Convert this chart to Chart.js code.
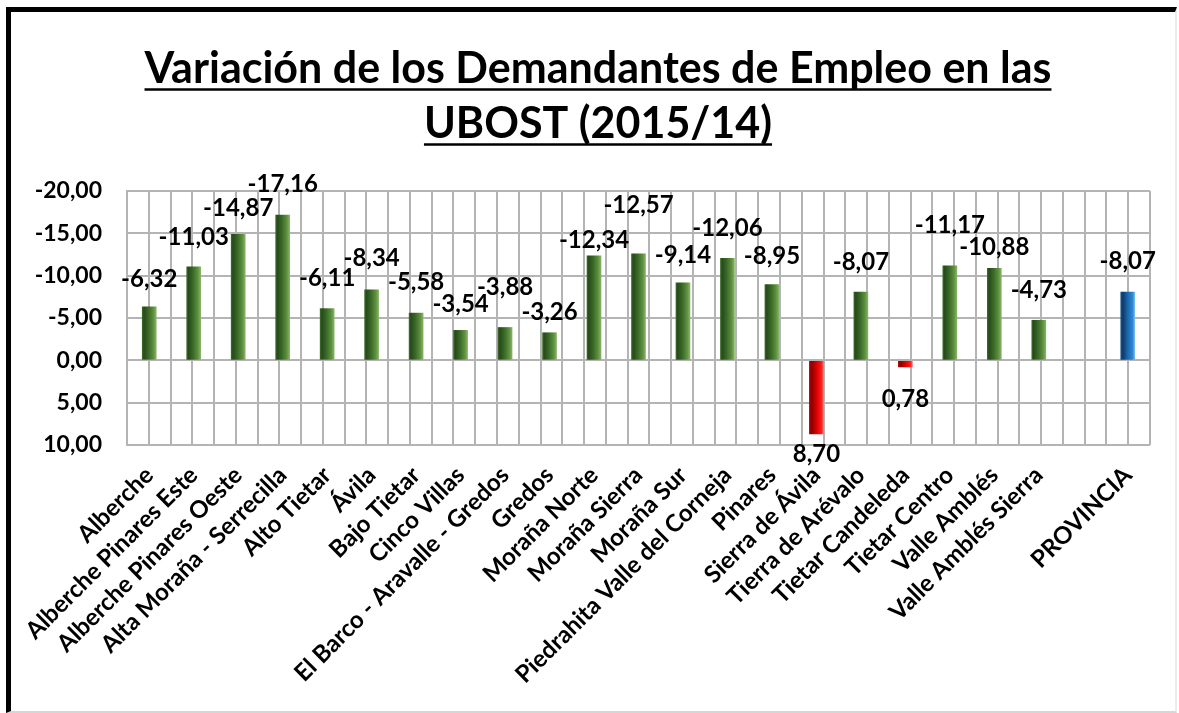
<!DOCTYPE html>
<html>
<head>
<meta charset="utf-8">
<script src="https://cdn.jsdelivr.net/npm/chart.js@4.4.1/dist/chart.umd.min.js"></script>
<style>
  html, body { margin: 0; padding: 0; background: #fff; }
  #frame {
    position: absolute; left: 6px; top: 7px; width: 1164px; height: 699px;
    border-top: 5px solid #000; border-left: 5px solid #000;
    border-right: 2px solid #ececec; border-bottom: 2px solid #d6d6d6;
  }
  #chart { position: absolute; left: 0; top: 0; }
</style>
</head>
<body>
<div id="frame"></div>
<canvas id="chart" width="1179" height="713"></canvas>
<script>
// UBOST + hueco + total provincial
const zonas = [
  'Alberche', 'Alberche Pinares Este', 'Alberche Pinares Oeste', 'Alta Moraña - Serrecilla',
  'Alto Tietar', 'Ávila', 'Bajo Tietar', 'Cinco Villas', 'El Barco - Aravalle - Gredos',
  'Gredos', 'Moraña Norte', 'Moraña Sierra', 'Moraña Sur', 'Piedrahita Valle del Corneja',
  'Pinares', 'Sierra de Ávila', 'Tierra de Arévalo', 'Tietar Candeleda', 'Tietar Centro',
  'Valle Amblés', 'Valle Amblés Sierra', '', 'PROVINCIA'
];
const variacion = [
  -6.32, -11.03, -14.87, -17.16, -6.11, -8.34, -5.58, -3.54, -3.88,
  -3.26, -12.34, -12.57, -9.14, -12.06, -8.95, 8.70, -8.07, 0.78,
  -11.17, -10.88, -4.73, null, -8.07
];
const yMin = -20;
const yMax = 10;
const yStep = 5;

const titulo = ['Variación de los Demandantes de Empleo en las', 'UBOST (2015/14)'];

// distance of each value label from the bar end (Excel moved a few of them)
const labelGap = [28, 30, 26, 31, 30, 31, 31, 26, 40, 20, 16, 49, 28, 30, 28, 20, 30, 32, 40, 21, 30, 0, 31];

const fmt = v => v.toFixed(2).replace('.', ',');

const greenStops = [[0, '#3b6a28'], [0.12, '#274a1a'], [0.45, '#3a6a28'], [0.8, '#5f9140'], [1, '#86b566']];
const redStops = [[0, '#b00000'], [0.15, '#8a0000'], [0.5, '#d80000'], [0.85, '#ff1a1a'], [1, '#ff6a6a']];
const blueStops = [[0, '#1b4f86'], [0.15, '#0e3a68'], [0.5, '#1c68b0'], [0.85, '#2f8ad6'], [1, '#7cbcec']];

function stopsFor(i) {
  if (i === zonas.length - 1) return blueStops;
  return variacion[i] > 0 ? redStops : greenStops;
}

// cylinder look: swap each bar's flat colour for a horizontal gradient at its drawn position
const barShading = {
  id: 'barShading',
  beforeDatasetsDraw(chart) {
    const ctx = chart.ctx;
    chart.getDatasetMeta(0).data.forEach((bar, i) => {
      if (variacion[i] == null || !isFinite(bar.x)) return;
      const half = bar.width / 2;
      const g = ctx.createLinearGradient(bar.x - half, 0, bar.x + half, 0);
      stopsFor(i).forEach(s => g.addColorStop(s[0], s[1]));
      bar.options.backgroundColor = g;
    });
  }
};

const valueLabels = {
  id: 'valueLabels',
  afterDatasetsDraw(chart) {
    const ctx = chart.ctx;
    const meta = chart.getDatasetMeta(0);
    ctx.save();
    ctx.font = 'bold 24px Lato';
    ctx.fillStyle = '#000';
    ctx.textAlign = 'center';
    ctx.textBaseline = 'middle';
    meta.data.forEach((bar, i) => {
      const v = variacion[i];
      if (v == null) return;
      const y = v < 0 ? bar.y - labelGap[i] : bar.y + labelGap[i];
      ctx.fillText(fmt(v), bar.x, y);
    });
    ctx.restore();
  }
};

const titleSize = 43;
const titleLine = 55;

const titleUnderline = {
  id: 'titleUnderline',
  afterDraw(chart) {
    const tb = chart.titleBlock;
    const opts = chart.options.plugins.title;
    const ctx = chart.ctx;
    ctx.save();
    ctx.font = 'bold ' + titleSize + 'px Lato';
    ctx.strokeStyle = '#000';
    ctx.lineWidth = 2.5;
    const cx = (tb.left + tb.right) / 2;
    titulo.forEach((line, i) => {
      const w = ctx.measureText(line).width;
      const y = tb.top + opts.padding.top + titleLine / 2 + i * titleLine + 20;
      ctx.beginPath();
      ctx.moveTo(cx - w / 2, y);
      ctx.lineTo(cx + w / 2, y);
      ctx.stroke();
    });
    ctx.restore();
  }
};

const gridColor = '#b4b4b4';

new Chart(document.getElementById('chart').getContext('2d'), {
  type: 'bar',
  data: {
    labels: zonas,
    datasets: [{
      data: variacion,
      backgroundColor: c => stopsFor(c.dataIndex)[2][1],
      borderWidth: 0,
      barThickness: 14
    }]
  },
  options: {
    responsive: false,
    animation: false,
    layout: { padding: { left: 17, right: 0, top: 0, bottom: 0 } },
    plugins: {
      legend: { display: false },
      tooltip: { enabled: false },
      title: {
        display: true,
        text: titulo,
        color: '#000',
        font: { family: 'Lato', size: titleSize, weight: 'bold', lineHeight: titleLine / titleSize },
        padding: { top: 42, bottom: 39 }
      }
    },
    scales: {
      x: {
        type: 'category',
        position: 'bottom',
        grid: { display: false, drawTicks: false },
        border: { display: false },
        ticks: {
          color: '#000',
          font: { family: 'Lato', size: 24, weight: 'bold' },
          autoSkip: false,
          maxRotation: 45,
          minRotation: 45,
          padding: 16
        },
        afterFit: s => { s.height = 268; }
      },
      xg: {
        type: 'linear',
        position: 'bottom',
        min: 0,
        max: zonas.length * 2,
        ticks: { display: false, stepSize: 1, maxTicksLimit: 100 },
        grid: { color: gridColor, lineWidth: 2, drawTicks: false },
        border: { display: false },
        afterFit: s => { s.height = 0; }
      },
      y: {
        reverse: true,
        min: yMin,
        max: yMax,
        ticks: {
          stepSize: yStep,
          color: '#000',
          font: { family: 'Lato', size: 23, weight: 'bold' },
          padding: 25,
          callback: v => fmt(v)
        },
        grid: { color: gridColor, lineWidth: 2, drawTicks: false },
        border: { display: true, color: gridColor, width: 2 },
        afterFit: s => { s.width = 110; }
      },
      yPad: {
        type: 'linear',
        position: 'right',
        display: true,
        ticks: { display: false },
        grid: { display: false, drawTicks: false },
        border: { display: false },
        afterFit: s => { s.width = 29; }
      }
    }
  },
  plugins: [barShading, valueLabels, titleUnderline]
});
</script>
</body>
</html>
